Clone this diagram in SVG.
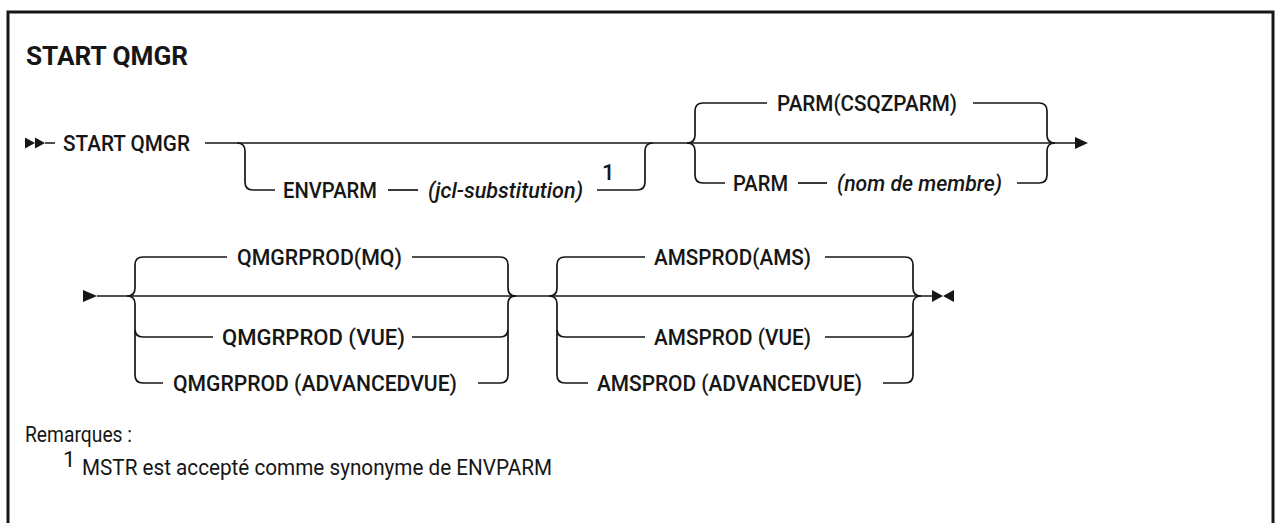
<svg xmlns="http://www.w3.org/2000/svg" width="1275" height="523" viewBox="0 0 1275 523">
<style>
.t{font-family:Roboto,"Liberation Sans",sans-serif;font-size:22px;font-weight:500;fill:#161616}
.i{font-style:italic}
.r{fill:none;stroke:#161616;stroke-width:1.7}
.a{fill:#161616;stroke:none}
.n{font-family:Roboto,"Liberation Sans",sans-serif;font-size:22px;fill:#161616}
.h{font-family:Roboto,"Liberation Sans",sans-serif;font-size:26px;font-weight:bold;fill:#161616}
</style>
<rect x="8" y="12" width="1265" height="600" fill="#fff" stroke="#161616" stroke-width="3"/>
<text class="h" x="26" y="65" textLength="162" lengthAdjust="spacingAndGlyphs">START QMGR</text>

<g id="connectors">
  <path class="r" d="M45,143 H55 M205,143 H1076"/>
  <path class="r" d="M237,143 Q245,143 245,151 V182 Q245,190 253,190 H275"/>
  <path class="r" d="M388,190 H418"/>
  <path class="r" d="M597,190 H637 Q645,190 645,182 V151 Q645,143 653,143"/>
  <path class="r" d="M687,143 Q695,143 695,135 V111 Q695,103 703,103 H767"/>
  <path class="r" d="M687,143 Q695,143 695,151 V175 Q695,183 703,183 H725"/>
  <path class="r" d="M798,183 H827"/>
  <path class="r" d="M973,103 H1039 Q1047,103 1047,111 V135 Q1047,143 1055,143"/>
  <path class="r" d="M1017,183 H1039 Q1047,183 1047,175 V151 Q1047,143 1055,143"/>
  <path class="a" d="M25,137.5 L35,143 L25,148.5 Z M35,137.5 L45,143 L35,148.5 Z"/>
  <path class="a" d="M1075,137 L1088,143 L1075,149 Z"/>

  <path class="r" d="M97,296 H933"/>
  <path class="r" d="M127,296 Q135,296 135,288 V265 Q135,257 143,257 H227"/>
  <path class="r" d="M127,296 Q135,296 135,304 V329 Q135,337 143,337 H213"/>
  <path class="r" d="M135,330 V375 Q135,383 143,383 H163"/>
  <path class="r" d="M412,257 H500 Q508,257 508,265 V288 Q508,296 516,296"/>
  <path class="r" d="M412,337 H500 Q508,337 508,329 V304 Q508,296 516,296"/>
  <path class="r" d="M478,383 H500 Q508,383 508,375 V330"/>
  <path class="r" d="M549,296 Q557,296 557,288 V265 Q557,257 565,257 H645"/>
  <path class="r" d="M549,296 Q557,296 557,304 V329 Q557,337 565,337 H645"/>
  <path class="r" d="M557,330 V375 Q557,383 565,383 H588"/>
  <path class="r" d="M825,257 H905 Q913,257 913,265 V288 Q913,296 921,296"/>
  <path class="r" d="M825,337 H905 Q913,337 913,329 V304 Q913,296 921,296"/>
  <path class="r" d="M883,383 H905 Q913,383 913,375 V330"/>
  <path class="a" d="M83,290 L97,296 L83,302 Z"/>
  <path class="a" d="M932,290 L943,296 L932,302 Z M954,290 L943,296 L954,302 Z"/>
</g>

<g id="start"><text class="t" x="63" y="150.5" textLength="127" lengthAdjust="spacingAndGlyphs">START QMGR</text></g>
<g id="envparm"><text class="t" x="283" y="197.5" textLength="94" lengthAdjust="spacingAndGlyphs">ENVPARM</text></g>
<g id="jcl"><text class="t i" x="428" y="197.5" textLength="155" lengthAdjust="spacingAndGlyphs">(jcl-substitution)</text>
  <text class="t" x="602" y="180" font-size="17" font-weight="bold">1</text></g>
<g id="parmdef"><text class="t" x="777" y="110.5" textLength="180" lengthAdjust="spacingAndGlyphs">PARM(CSQZPARM)</text></g>
<g id="parm"><text class="t" x="733" y="190.5" textLength="55" lengthAdjust="spacingAndGlyphs">PARM</text></g>
<g id="nom"><text class="t i" x="837" y="190.5" textLength="165" lengthAdjust="spacingAndGlyphs">(nom de membre)</text></g>

<g id="qmq"><text class="t" x="237" y="264.5" textLength="165" lengthAdjust="spacingAndGlyphs">QMGRPROD(MQ)</text></g>
<g id="qvue"><text class="t" x="222" y="344.5" textLength="183" lengthAdjust="spacingAndGlyphs">QMGRPROD (VUE)</text></g>
<g id="qadv"><text class="t" x="173" y="390.5" textLength="284" lengthAdjust="spacingAndGlyphs">QMGRPROD (ADVANCEDVUE)</text></g>
<g id="aams"><text class="t" x="654" y="264.5" textLength="157" lengthAdjust="spacingAndGlyphs">AMSPROD(AMS)</text></g>
<g id="avue"><text class="t" x="654" y="344.5" textLength="157" lengthAdjust="spacingAndGlyphs">AMSPROD (VUE)</text></g>
<g id="aadv"><text class="t" x="597" y="390.5" textLength="265" lengthAdjust="spacingAndGlyphs">AMSPROD (ADVANCEDVUE)</text></g>

<g id="notes">
  <text class="n" x="25" y="442" textLength="107" lengthAdjust="spacingAndGlyphs">Remarques :</text>
  <text class="n" x="63" y="467" font-size="15">1</text>
  <text class="n" x="82" y="475" textLength="470" lengthAdjust="spacingAndGlyphs">MSTR est accepté comme synonyme de ENVPARM</text>
</g>
</svg>
